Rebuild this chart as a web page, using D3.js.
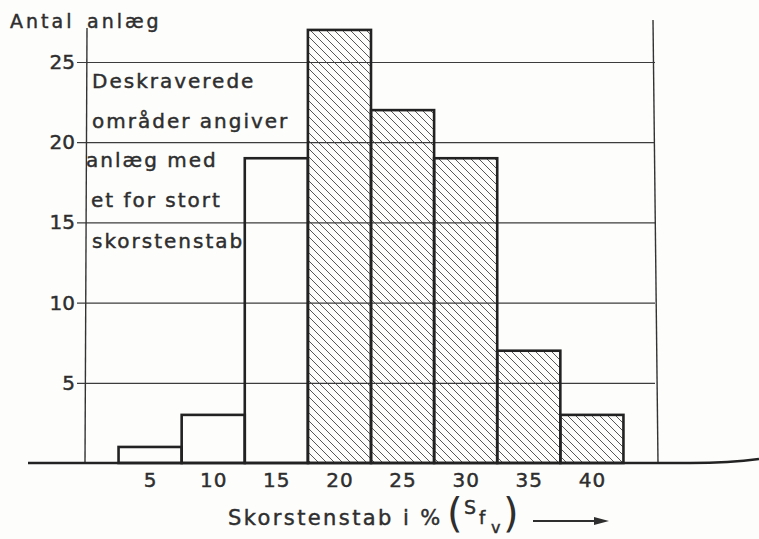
<!DOCTYPE html>
<html>
<head>
<meta charset="utf-8">
<script src="https://cdn.jsdelivr.net/npm/d3@7"></script>
<style>
    body { margin: 0; background: #fdfdfc; }
    svg { display: block; }
    text { font-family: "DejaVu Sans", sans-serif; fill: #2e2e2e; stroke: #2e2e2e; stroke-width: 0.45px; }
</style>
</head>
<body>
<div id="chart"></div>
<script>
// bin centres (Skorstenstab i %) and number of plants in each bin
const binCentres = [5, 10, 15, 20, 25, 30, 35, 40];
const counts = [1, 3, 19, 27, 22, 19, 7, 3];
const hatched = [false, false, false, true, true, true, true, true];
const binWidth = 5;
const yTicks = [5, 10, 15, 20, 25];
const noteLines = ["Deskraverede", "områder angiver", "anlæg med", "et for stort", "skorstenstab"];

let width = 759, height = 539;

let svg = d3.select("#chart")
    .append("svg")
    .attr("width", width)
    .attr("height", height);

// hatch pattern for the shaded bars
let defs = svg.append("defs");
defs.append("pattern")
    .attr("id", "hatch")
    .attr("patternUnits", "userSpaceOnUse")
    .attr("width", 8)
    .attr("height", 8)
    .append("path")
    .attr("d", "M-2,-2 L10,10 M-2,6 L2,10 M6,-2 L10,2")
    .attr("stroke", "#444")
    .attr("stroke-width", 0.9);

let x = d3.scaleLinear().domain([0, 45]).range([87, 655]);
let y = d3.scaleLinear().domain([0, 25]).range([463, 62]);

// gridlines + y labels
let gridLeft = 77;
svg.append("g")
    .attr("transform", `translate(${gridLeft},0)`)
    .call(d3.axisLeft(y)
        .tickValues(yTicks)
        .tickSize(-(x(45) - gridLeft))
        .tickPadding(2))
    .call(g => g.select(".domain").remove())
    .call(g => g.selectAll("line").attr("stroke", "#3c3c3c").attr("stroke-width", 1.2))
    .call(g => g.selectAll("text")
        .style("font-size", "20px")
        .style("font-family", "DejaVu Sans, sans-serif")
        .attr("fill", "#2e2e2e"));

// y axis line and right frame line
svg.append("line")
    .attr("x1", x(0)).attr("x2", x(0) - 2)
    .attr("y1", 28).attr("y2", y(0))
    .attr("stroke", "#333").attr("stroke-width", 1.4);
svg.append("line")
    .attr("x1", x(45) - 2).attr("x2", x(45) + 3)
    .attr("y1", 20).attr("y2", y(0))
    .attr("stroke", "#333").attr("stroke-width", 1.4);

// bars
svg.selectAll(".bar")
    .data(binCentres)
    .enter()
    .append("rect")
    .attr("class", "bar")
    .attr("x", d => x(d - binWidth / 2))
    .attr("y", (d, i) => y(counts[i]))
    .attr("width", d => x(d + binWidth / 2) - x(d - binWidth / 2))
    .attr("height", (d, i) => y(0) - y(counts[i]))
    .attr("fill", (d, i) => hatched[i] ? "url(#hatch)" : "none")
    .attr("stroke", "#222")
    .attr("stroke-width", 2.6);

// baseline (curls up slightly at the right, like the scan)
svg.append("path")
    .attr("d", `M28,${y(0)} L690,${y(0)} Q730,${y(0)} 759,${y(0) - 4}`)
    .attr("fill", "none")
    .attr("stroke", "#222")
    .attr("stroke-width", 2.6);

// x labels
svg.append("g")
    .attr("transform", `translate(0,${y(0)})`)
    .call(d3.axisBottom(x).tickValues(binCentres).tickSize(0).tickPadding(10))
    .call(g => g.select(".domain").remove())
    .call(g => g.selectAll("text")
        .style("font-size", "20px")
        .style("font-family", "DejaVu Sans, sans-serif")
        .style("letter-spacing", "1px")
        .attr("fill", "#2e2e2e"));

// y title
svg.append("text")
    .attr("x", 10)
    .attr("y", 28)
    .style("font-size", "19px")
    .style("letter-spacing", "3px")
    .text("Antal");
svg.append("text")
    .attr("x", 87)
    .attr("y", 28)
    .style("font-size", "19px")
    .style("letter-spacing", "3px")
    .text("anlæg");

// note inside the plot
let noteX = [92, 92, 86, 91, 92];
let noteY = [88, 128, 167, 207, 248];
svg.selectAll(".note")
    .data(noteLines)
    .enter()
    .append("text")
    .attr("class", "note")
    .attr("x", (d, i) => noteX[i])
    .attr("y", (d, i) => noteY[i])
    .style("font-size", "20px")
    .style("letter-spacing", "2px")
    .text(d => d);

// x title
svg.append("text")
    .attr("x", 228)
    .attr("y", 525)
    .style("font-size", "21px")
    .style("letter-spacing", "2.4px")
    .text("Skorstenstab i %");
svg.append("text").attr("x", 447).attr("y", 527)
    .style("font-size", "40px").style("stroke-width", "0px").text("(");
svg.append("text").attr("x", 464).attr("y", 514)
    .style("font-size", "19px").text("S");
svg.append("text").attr("x", 479).attr("y", 524)
    .style("font-size", "18px").text("f");
svg.append("text").attr("x", 491).attr("y", 533)
    .style("font-size", "16px").text("v");
svg.append("text").attr("x", 503).attr("y", 527)
    .style("font-size", "40px").style("stroke-width", "0px").text(")");

// arrow
svg.append("line")
    .attr("x1", 533).attr("x2", 600)
    .attr("y1", 521).attr("y2", 521)
    .attr("stroke", "#2e2e2e").attr("stroke-width", 2);
svg.append("path")
    .attr("d", "M594,517 L609,521 L594,525 Z")
    .attr("fill", "#2e2e2e");
</script>
</body>
</html>
